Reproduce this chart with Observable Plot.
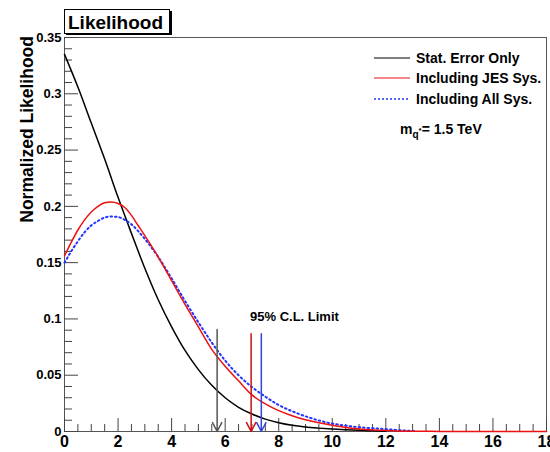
<!DOCTYPE html>
<html><head><meta charset="utf-8">
<script src="https://cdn.jsdelivr.net/npm/d3@7"></script>
<script src="https://cdn.jsdelivr.net/npm/@observablehq/plot@0.6"></script>
<style>
body{margin:0;background:#fff;}
#chart{position:relative;width:550px;height:452px;}
</style>
</head><body><div id="chart"></div>
<script>
// ---- data ----
const statX = [0,0.5,1,1.5,2,2.5,3,3.5,4,4.5,5,5.5,6,6.5,7,7.5,8,8.5,9,9.5,10,10.5,11,11.5,12];
const statY = [0.335,0.306,0.274,0.242,0.208,0.176,0.145,0.117,0.093,0.072,0.055,0.041,0.030,0.0215,0.0155,0.0110,0.0078,0.0055,0.0040,0.0030,0.0022,0.0015,0.0010,0.0006,0.0003];

const jesX = [0,0.25,0.5,0.75,1,1.25,1.5,1.75,2,2.25,2.5,2.75,3,3.5,4,4.5,5,5.5,6,6.5,7,7.5,8,8.5,9,9.5,10,10.5,11,11.5,12,12.5,13,14,15,16,17,18];
const jesY = [0.156,0.168,0.179,0.188,0.195,0.200,0.2032,0.2038,0.2025,0.199,0.192,0.183,0.174,0.155,0.134,0.113,0.093,0.073,0.058,0.045,0.0325,0.0245,0.0185,0.0140,0.0105,0.0077,0.0055,0.0036,0.0023,0.0014,0.0008,0.0004,0.0002,0.0001,0,0,0,0];

const allX = [0,0.25,0.5,0.75,1,1.25,1.5,1.75,2,2.25,2.5,2.75,3,3.5,4,4.5,5,5.5,6,6.5,7,7.5,8,8.5,9,9.5,10,10.5,11,11.5,12,12.5,13,13.1];
const allY = [0.150,0.160,0.169,0.177,0.183,0.187,0.190,0.191,0.1905,0.188,0.184,0.178,0.171,0.155,0.136,0.116,0.097,0.079,0.063,0.050,0.0395,0.031,0.0235,0.018,0.0135,0.0098,0.0070,0.0052,0.0038,0.0029,0.0021,0.0012,0.0005,0.0003];

// 95% C.L. limits (arrow positions) and arrow top values
const limitNames = ["Stat. Error Only","Including JES Sys.","Including All Sys."];
const limitX = [5.7, 6.97, 7.35];
const limitTop = [0.0905, 0.0868, 0.0868];
const limitColors = ["#555555","#cc1111","#3344dd"];

const seriesColors = ["#000000","#ee1111","#2233ff"];

const xMajor = [0,2,4,6,8,10,12,14,16,18];
const xTickLabels = ["0","2","4","6","8","10","12","14","16","18"];
const xMinor = [0.5,1,1.5,2.5,3,3.5,4.5,5,5.5,6.5,7,7.5,8.5,9,9.5,10.5,11,11.5,12.5,13,13.5,14.5,15,15.5,16.5,17,17.5];
const yMajor = [0,0.05,0.1,0.15,0.2,0.25,0.3,0.35];
const yTickLabels = ["0","0.05","0.1","0.15","0.2","0.25","0.3","0.35"];
const yMinor = [0.01,0.02,0.03,0.04,0.06,0.07,0.08,0.09,0.11,0.12,0.13,0.14,0.16,0.17,0.18,0.19,0.21,0.22,0.23,0.24,0.26,0.27,0.28,0.29,0.31,0.32,0.33,0.34];

const titleText = "Likelihood";
const yTitle = "Normalized Likelihood";
const clText = "95% C.L. Limit";

// ---- tables built from the arrays ----
const toRows = (xs, ys) => xs.map((x, i) => ({x, y: ys[i]}));
const statRows = toRows(statX, statY);
const jesRows = toRows(jesX, jesY);
const allRows = toRows(allX, allY);
const limitRows = limitX.map((x, i) => ({name: limitNames[i], x, top: limitTop[i], color: limitColors[i]}));

const W = 550, H = 452, ML = 64, MR = 4, MT = 37, MB = 21;
const frameW = W - ML - MR, frameH = H - MT - MB;
const font = "'Liberation Sans', Arial, Helvetica, sans-serif";

const plot = Plot.plot({
  width: W, height: H,
  marginLeft: ML, marginRight: MR, marginTop: MT, marginBottom: MB,
  style: {fontFamily: font, background: "#fff", color: "#000"},
  x: {domain: [0, 18]},
  y: {domain: [0, 0.35]},
  color: {type: "identity"},
  marks: [
    Plot.frame({stroke: "#555", strokeWidth: 1}),
    // inward ticks (ROOT style)
    Plot.tickX(xMinor, {x: d => d, insetTop: frameH - 7, stroke: "#444"}),
    Plot.tickX(xMajor, {x: d => d, insetTop: frameH - 13, stroke: "#444"}),
    Plot.tickY(yMinor, {y: d => d, insetRight: frameW - 8, stroke: "#444"}),
    Plot.tickY(yMajor, {y: d => d, insetRight: frameW - 14, stroke: "#444"}),
    Plot.axisX({ticks: xMajor, tickSize: 0, tickPadding: 4, fontSize: 16, fontWeight: "bold", label: null,
      tickFormat: d => xTickLabels[xMajor.indexOf(d)]}),
    Plot.axisY({ticks: yMajor, tickSize: 0, tickPadding: 3, fontSize: 13, fontWeight: "bold", label: null,
      tickFormat: d => yTickLabels[yMajor.indexOf(d)]}),
    Plot.line(statRows, {x: "x", y: "y", stroke: seriesColors[0], strokeWidth: 1.5, curve: "monotone-x"}),
    Plot.line(allRows, {x: "x", y: "y", stroke: seriesColors[2], strokeWidth: 2, strokeDasharray: "1.5,3", curve: "monotone-x"}),
    Plot.line(jesRows, {x: "x", y: "y", stroke: seriesColors[1], strokeWidth: 1.5, curve: "monotone-x"}),
    Plot.arrow(limitRows, {x1: "x", x2: "x", y1: "top", y2: 0, stroke: "color", strokeWidth: 1.5, headLength: 10, headAngle: 55})
  ]
});

document.getElementById("chart").appendChild(plot);

// ---- annotations (title box, axis title, legend, text) ----
const svg = d3.select(plot);
const ann = svg.append("g").attr("font-family", font).attr("font-weight", "bold").attr("text-anchor", "start").attr("fill", "#000");
// title box
ann.append("rect").attr("x", 66).attr("y", 11).attr("width", 106).attr("height", 24).attr("fill", "#000");
ann.append("rect").attr("x", 64.5).attr("y", 9.5).attr("width", 105).attr("height", 24).attr("fill", "#fff").attr("stroke", "#000");
ann.append("text").attr("x", 68).attr("y", 29).attr("font-size", 19).text(titleText);

// y axis title
ann.append("text").attr("transform", "translate(33,36) rotate(-90)").attr("text-anchor", "end")
  .attr("font-size", 17.5).text(yTitle);

// legend
const legendY = [58, 78, 99];
limitNames.forEach((name, i) => {
  ann.append("line").attr("x1", 374).attr("x2", 410).attr("y1", legendY[i]).attr("y2", legendY[i])
    .attr("stroke", seriesColors[i]).attr("stroke-width", i === 2 ? 1.5 : 1.2)
    .attr("stroke-dasharray", i === 2 ? "2,2" : null);
  ann.append("text").attr("x", 416).attr("y", legendY[i] + 5).attr("font-size", 14).text(name);
});
const mt = ann.append("text").attr("x", 400).attr("y", 134).attr("font-size", 14);
mt.append("tspan").text("m");
mt.append("tspan").attr("font-size", 10).attr("dy", 4).text("q");
mt.append("tspan").attr("font-size", 8).attr("dy", -5).text("*");
mt.append("tspan").attr("dy", 1).text("= 1.5 TeV");

// 95% CL label
ann.append("text").attr("x", 250).attr("y", 321).attr("font-size", 13).text(clText);
</script>
</body></html>
